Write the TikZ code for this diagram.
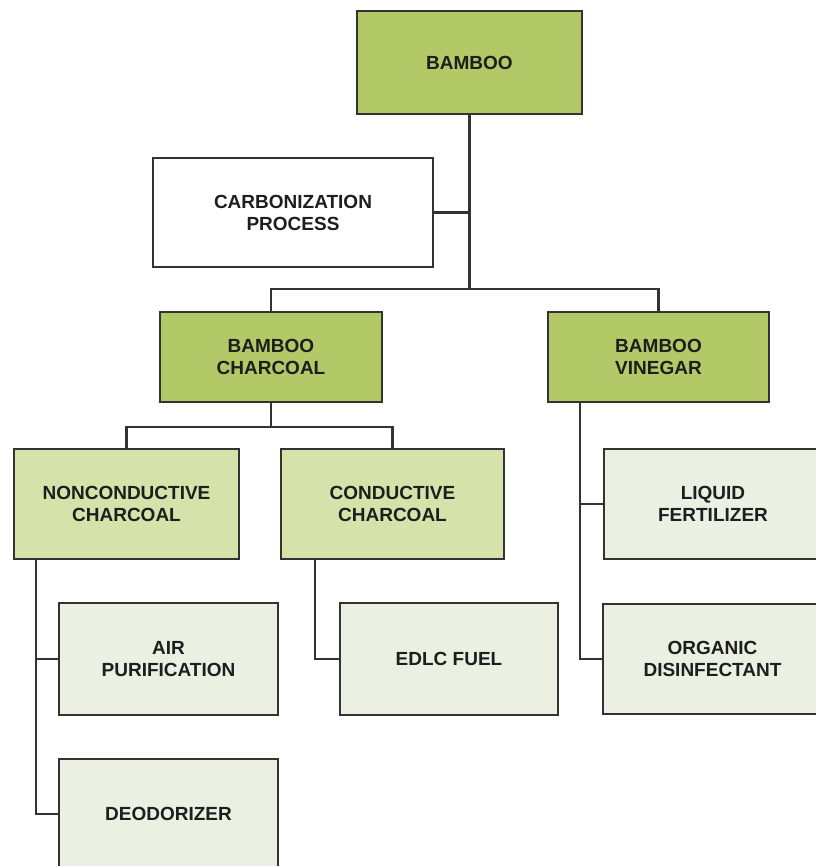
\documentclass[tikz,border=0pt]{standalone}
\usepackage{fontspec}
\setmainfont{Liberation Sans}
\usepackage{tikz}
\usetikzlibrary{positioning}

\begin{document}
\begin{tikzpicture}[x=1pt,y=-1pt]
\definecolor{leafgreen}{RGB}{179,200,102};
\definecolor{palegreen}{RGB}{214,226,170};
\definecolor{mistgreen}{RGB}{235,240,227};
\definecolor{boxline}{RGB}{51,51,51};
\definecolor{boxtext}{RGB}{30,30,30};
\useasboundingbox (0,0) rectangle (815,866);
\tikzstyle{box}=[draw=boxline, line width=2.2pt, shape=rectangle,
                 inner sep=0pt, align=center, text=boxtext,
                 font=\bfseries\fontsize{19}{22}\selectfont];
\tikzstyle{link}=[draw=boxline, line width=2.2pt];
% top level
\node [box, fill=leafgreen, minimum width=225, minimum height=103] (bamboo) at (469.5,62.5) {BAMBOO};
\node [box, fill=white, minimum width=280, minimum height=109] (carb) at (293,212.5) {CARBONIZATION\\PROCESS};
\node [box, fill=leafgreen, minimum width=222, minimum height=90] (charcoal) at (271,357) {BAMBOO\\CHARCOAL};
\node [box, fill=leafgreen, minimum width=221, minimum height=90] (vinegar) at (658.5,357) {BAMBOO\\VINEGAR};
% charcoal kinds
\node [box, fill=palegreen, minimum width=225, minimum height=110] (noncond) at (126.5,504) {NONCONDUCTIVE\\CHARCOAL};
\node [box, fill=palegreen, minimum width=223, minimum height=110] (cond) at (392.5,504) {CONDUCTIVE\\CHARCOAL};
% uses
\node [box, fill=mistgreen, minimum width=218, minimum height=110] (liquid) at (713,504) {LIQUID\\FERTILIZER};
\node [box, fill=mistgreen, minimum width=219, minimum height=112] (air) at (168.5,659) {AIR\\PURIFICATION};
\node [box, fill=mistgreen, minimum width=218, minimum height=112] (edlc) at (449,659) {EDLC FUEL};
\node [box, fill=mistgreen, minimum width=219, minimum height=110] (organic) at (712.5,659) {ORGANIC\\DISINFECTANT};
\node [box, fill=mistgreen, minimum width=219, minimum height=110] (deodor) at (168.5,814) {DEODORIZER};
% connectors
\coordinate (topbus) at (469.5,289);
\coordinate (midbus) at (271,427);
\draw [link] (bamboo.south) -- (topbus);
\draw [link] (carb.east) -- (carb.east -| topbus);
\draw [link] (charcoal.north) |- (topbus) -| (vinegar.north);
\draw [link] (charcoal.south) -- (midbus);
\draw [link] (noncond.north) |- (midbus) -| (cond.north);
\draw [link] (air.west) -| ([xshift=23pt]noncond.south west);
\draw [link] (deodor.west) -| ([xshift=23pt]noncond.south west);
\draw [link] (edlc.west) -| ([xshift=35pt]cond.south west);
\draw [link] (liquid.west) -| ([xshift=33pt]vinegar.south west);
\draw [link] (organic.west) -| ([xshift=33pt]vinegar.south west);
\end{tikzpicture}
\end{document}
